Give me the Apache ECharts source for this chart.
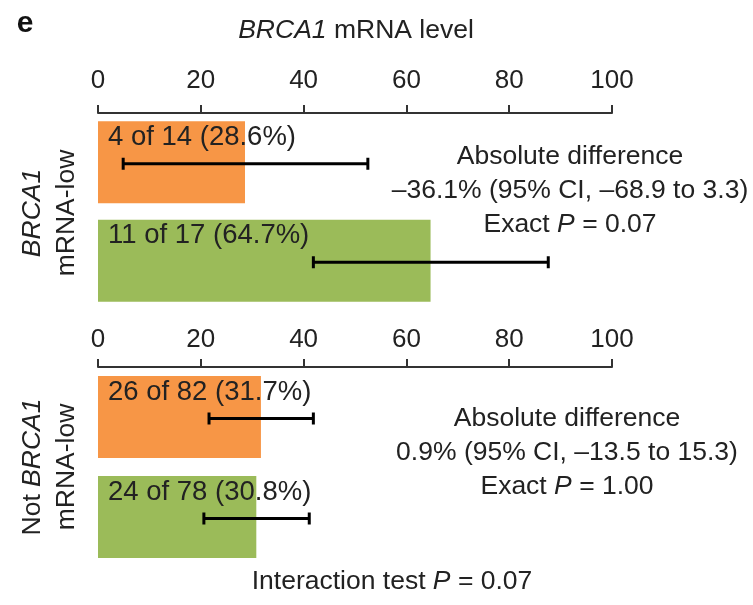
<!DOCTYPE html>
<html>
<head>
<meta charset="utf-8">
<script src="https://cdn.jsdelivr.net/npm/echarts@6/dist/echarts.min.js"></script>
<style>
  html, body { margin: 0; padding: 0; background: #fff; }
  #chart { width: 753px; height: 605px; }
</style>
</head>
<body>
<div id="chart"></div>
<script>
// Axis ticks (percent of patients)
const tickValues = [0, 20, 40, 60, 80, 100];
const armNames = ['Arm 1', 'Arm 2'];
const armColors = ['#F79646', '#9BBB59'];

// BRCA1 mRNA-low subgroup
const lowEvents = [4, 11];
const lowTotals = [14, 17];
const lowPercent = [28.6, 64.7];
const lowCiLower = [4.9, 41.9];
const lowCiUpper = [52.5, 87.6];
const lowSummary = ['Absolute difference', '\u201336.1% (95% CI, \u201368.9 to 3.3)', '0.07'];

// Not BRCA1 mRNA-low subgroup
const otherEvents = [26, 24];
const otherTotals = [82, 78];
const otherPercent = [31.7, 30.8];
const otherCiLower = [21.6, 20.6];
const otherCiUpper = [41.9, 41.1];
const otherSummary = ['Absolute difference', '0.9% (95% CI, \u201313.5 to 15.3)', '1.00'];

const interactionP = '0.07';

const FONT = '"Liberation Sans", Arial, Helvetica, sans-serif';
const TEXT = '#222';
const FS = 26.5;
const FS_BAR = 27.5;
const FS_TICK = 26;

const chart = echarts.init(document.getElementById('chart'), null, { renderer: 'canvas' });

function xAxisFor(gridIndex, margin) {
  return {
    type: 'value', gridIndex, position: 'top',
    min: tickValues[0], max: tickValues[tickValues.length - 1],
    interval: tickValues[1] - tickValues[0],
    axisLine: { show: true, lineStyle: { color: '#333', width: 2 } },
    axisTick: { show: true, length: 8, lineStyle: { color: '#333', width: 2 } },
    axisLabel: { margin, fontSize: FS_TICK, fontFamily: FONT, color: TEXT },
    splitLine: { show: false }
  };
}
function yAxisFor(gridIndex) {
  return {
    type: 'category', gridIndex, data: armNames, inverse: true,
    axisLine: { show: false }, axisTick: { show: false }, axisLabel: { show: false }
  };
}
function barSeries(idx, pct, ev, tot) {
  return {
    type: 'bar', xAxisIndex: idx, yAxisIndex: idx, barWidth: 82,
    data: pct.map((v, i) => ({ value: v, itemStyle: { color: armColors[i] } })),
    label: {
      show: true, position: [10, 2], align: 'left', verticalAlign: 'top',
      fontSize: FS_BAR, fontFamily: FONT, color: TEXT,
      formatter: p => ev[p.dataIndex] + ' of ' + tot[p.dataIndex] + ' (' + pct[p.dataIndex].toFixed(1) + '%)'
    },
    silent: true, z: 2
  };
}
function ciSeries(idx, lo, hi) {
  return {
    type: 'custom', xAxisIndex: idx, yAxisIndex: idx, z: 5, silent: true,
    data: lo.map((v, i) => [v, hi[i], i]),
    renderItem: (params, api) => {
      const c = api.value(2);
      const a = api.coord([api.value(0), c]);
      const b = api.coord([api.value(1), c]);
      const y = a[1] + 1.5;
      const cap = 6;
      const st = { stroke: '#000', lineWidth: 3 };
      return {
        type: 'group', children: [
          { type: 'line', shape: { x1: a[0], y1: y, x2: b[0], y2: y }, style: st },
          { type: 'line', shape: { x1: a[0], y1: y - cap, x2: a[0], y2: y + cap }, style: st },
          { type: 'line', shape: { x1: b[0], y1: y - cap, x2: b[0], y2: y + cap }, style: st }
        ]
      };
    }
  };
}
function summaryText(lines, cx, cy) {
  return {
    type: 'text', x: cx, y: cy, silent: true,
    style: {
      text: lines[0] + '\n' + lines[1] + '\nExact {i|P} = ' + lines[2],
      font: FS + 'px ' + FONT, fill: TEXT, align: 'center', verticalAlign: 'middle', lineHeight: 34,
      rich: { i: { fontStyle: 'italic', fontSize: FS, fontFamily: FONT, fill: TEXT, lineHeight: 34 } }
    }
  };
}
function sideLabel(first, cx, cy) {
  return {
    type: 'text', x: cx, y: cy, rotation: Math.PI / 2, silent: true,
    style: {
      text: first + '\nmRNA-low',
      font: FS + 'px ' + FONT, fill: TEXT, align: 'center', verticalAlign: 'middle', lineHeight: 34,
      rich: { i: { fontStyle: 'italic', fontSize: FS, fontFamily: FONT, fill: TEXT, lineHeight: 34 } }
    }
  };
}

chart.setOption({
  animation: false,
  backgroundColor: '#fff',
  grid: [
    { left: 98, right: 141, top: 113, height: 197 },
    { left: 98, right: 141, top: 367, height: 200 }
  ],
  xAxis: [xAxisFor(0, 19), xAxisFor(1, 14)],
  yAxis: [yAxisFor(0), yAxisFor(1)],
  series: [
    barSeries(0, lowPercent, lowEvents, lowTotals),
    barSeries(1, otherPercent, otherEvents, otherTotals),
    ciSeries(0, lowCiLower, lowCiUpper),
    ciSeries(1, otherCiLower, otherCiUpper)
  ],
  graphic: [
    { type: 'text', x: 25, y: 24, silent: true,
      style: { text: 'e', font: 'bold 30px ' + FONT, fill: '#111', align: 'center', verticalAlign: 'middle' } },
    { type: 'text', x: 356, y: 31, silent: true,
      style: { text: '{i|BRCA1} mRNA level', font: FS + 'px ' + FONT, fill: TEXT, align: 'center', verticalAlign: 'middle',
        rich: { i: { fontStyle: 'italic', fontSize: FS, fontFamily: FONT, fill: TEXT } } } },
    sideLabel('{i|BRCA1}', 50, 213),
    sideLabel('Not {i|BRCA1}', 50, 467),
    summaryText(lowSummary, 570, 191),
    summaryText(otherSummary, 567, 453),
    { type: 'text', x: 392, y: 582, silent: true,
      style: { text: 'Interaction test {i|P} = ' + interactionP, font: FS + 'px ' + FONT, fill: TEXT, align: 'center', verticalAlign: 'middle',
        rich: { i: { fontStyle: 'italic', fontSize: FS, fontFamily: FONT, fill: TEXT } } } }
  ]
});
</script>
</body>
</html>
